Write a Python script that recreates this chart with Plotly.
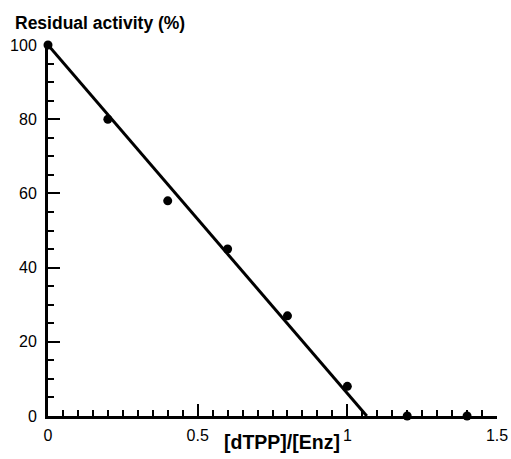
import plotly.graph_objects as go

ratio = [0, 0.2, 0.4, 0.6, 0.8, 1.0, 1.2, 1.4]
activity = [100, 80, 58, 45, 27, 8, 0, 0]
fit_x = [0, 1.065]
fit_y = [100, 0]

x_ticks = [0, 0.5, 1, 1.5]
x_tick_labels = ["0", "0.5", "1", "1.5"]
y_ticks = [0, 20, 40, 60, 80, 100]
y_tick_labels = ["0", "20", "40", "60", "80", "100"]

fig = go.Figure()
fig.add_trace(go.Scatter(x=fit_x, y=fit_y, mode="lines",
                         line=dict(color="black", width=3), cliponaxis=False,
                         showlegend=False))
fig.add_trace(go.Scatter(x=ratio, y=activity, mode="markers",
                         marker=dict(color="black", size=9), cliponaxis=False,
                         showlegend=False))

font = dict(family="Liberation Sans, Arial, sans-serif", size=16, color="black")

fig.update_layout(
    width=511, height=459,
    margin=dict(l=48, r=14, t=45, b=43),
    paper_bgcolor="white", plot_bgcolor="white",
    font=font,
    xaxis=dict(range=[0, 1.5], tickvals=x_ticks, ticktext=x_tick_labels,
               ticks="inside", ticklen=12, tickwidth=2, tickcolor="black",
               showline=True, linewidth=3, linecolor="black", automargin=False,
               showgrid=False, zeroline=False, ticklabelstandoff=3,
               minor=dict(ticks="inside", dtick=0.05, tick0=0, ticklen=6,
                          tickwidth=2, tickcolor="black", showgrid=False)),
    yaxis=dict(range=[0, 100], tickvals=y_ticks, ticktext=y_tick_labels,
               ticks="inside", ticklen=12, tickwidth=2, tickcolor="black",
               showline=True, linewidth=3, linecolor="black", automargin=False,
               showgrid=False, zeroline=False, ticklabelstandoff=5,
               minor=dict(ticks="inside", dtick=5, tick0=0, ticklen=6,
                          tickwidth=2, tickcolor="black", showgrid=False)),
    annotations=[
        dict(text="<b>Residual activity (%)</b>", xref="paper", yref="paper",
             x=-0.078, y=1.059, xanchor="left", yanchor="middle",
             showarrow=False, font=dict(size=17.5)),
        dict(text="<b>[dTPP]/[Enz]</b>", xref="paper", yref="paper",
             x=0.521, y=-0.07, xanchor="center", yanchor="middle",
             showarrow=False, font=dict(size=19.5)),
    ],
)

fig.write_html("out.html", config={"displayModeBar": False},
               post_script="document.body.style.margin='0';")
